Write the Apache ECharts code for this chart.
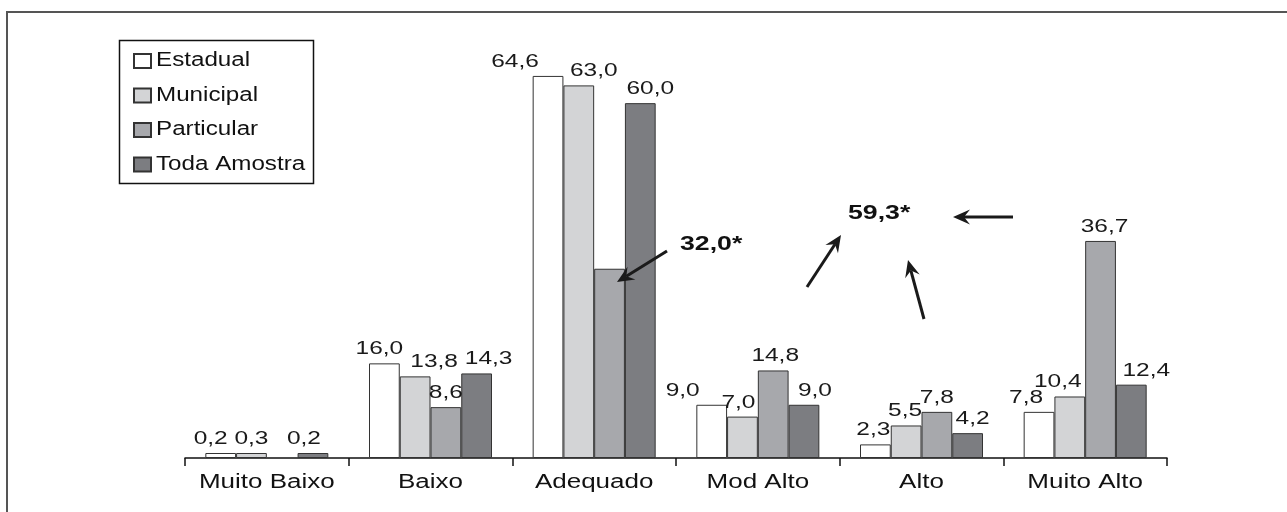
<!DOCTYPE html>
<html><head><meta charset="utf-8">
<script src="https://cdn.jsdelivr.net/npm/echarts@6/dist/echarts.min.js"></script>
<style>html,body{margin:0;padding:0;background:#fff}#c{width:1287px;height:512px}</style>
</head><body><div id="c"></div>
<script>
const categories = ['Muito Baixo','Baixo','Adequado','Mod Alto','Alto','Muito Alto'];
const seriesNames = ['Estadual','Municipal','Particular','Toda Amostra'];
const estadual = [0.2, 16.0, 64.6, 9.0, 2.3, 7.8];
const municipal = [0.3, 13.8, 63.0, 7.0, 5.5, 10.4];
const particular = [null, 8.6, 32.0, 14.8, 7.8, 36.7];
const todaAmostra = [0.2, 14.3, 60.0, 9.0, 4.2, 12.4];
const hiddenLabel = [[2, 2]]; // [seriesIndex, dataIndex] shown via annotation instead
const annotations = ['32,0*', '59,3*'];
const colors = ['#ffffff', '#d3d4d6', '#a7a8ac', '#7c7d81'];

// Layout only: horizontal nudges of the value labels as placed in the reference.
const labelShiftX = [
  [-10, -5, -33, -29, -2, -13],
  [0, 19, 15, -4, -1, -12],
  [0, 0, 0, 2, 0, 4],
  [-9, 12, 10, 11, 5, 15]
];

const FONT = '"Liberation Sans", Arial, sans-serif';
// The reference text is horizontally wide; widen glyphs per text size.
const WIDEN = { '18': 1.36, '20': 1.30, '19.5': 1.24, '21': 1.27 };
(function(){
  const orig = CanvasRenderingContext2D.prototype.fillText;
  CanvasRenderingContext2D.prototype.fillText = function(t, x, y, mw){
    const m = /([\d.]+)px/.exec(this.font || '');
    const s = m ? (WIDEN[m[1]] || 1) : 1;
    if (s === 1) return mw === undefined ? orig.call(this, t, x, y) : orig.call(this, t, x, y, mw);
    this.save(); this.translate(x, y); this.scale(s, 1);
    if (mw === undefined) orig.call(this, t, 0, 0); else orig.call(this, t, 0, 0, mw);
    this.restore();
  };
})();

function fmt(v){ return v == null ? '' : v.toFixed(1).replace('.', ','); }

const allData = [estadual, municipal, particular, todaAmostra];
const series = allData.map((arr, si) => ({
  name: seriesNames[si],
  type: 'bar',
  barWidth: 30.75,
  barGap: '0%',
  barMinHeight: 5,
  itemStyle: { color: colors[si], borderColor: '#333', borderWidth: 1 },
  label: {
    show: true, position: 'top', distance: 5,
    fontFamily: FONT, fontSize: 18, color: '#1a1a1a',
    formatter: p => fmt(p.value)
  },
  data: arr.map((v, di) => {
    const hide = hiddenLabel.some(h => h[0] === si && h[1] === di);
    if (hide) return { value: v, label: { show: false } };
    return { value: v, label: { offset: [labelShiftX[si][di], 0] } };
  })
}));

function arrow(x1, y1, x2, y2){
  const dx = x2 - x1, dy = y2 - y1, L = Math.hypot(dx, dy);
  const ux = dx / L, uy = dy / L, nx = -uy, ny = ux;
  const hl = 17, hw = 7.5, notch = 11;
  const bx = x2 - ux * hl, by = y2 - uy * hl;
  const mx = x2 - ux * notch, my = y2 - uy * notch;
  return [
    { type: 'line', z: 100, shape: { x1: x1, y1: y1, x2: mx, y2: my },
      style: { stroke: '#1a1a1a', lineWidth: 3 } },
    { type: 'polygon', z: 100, shape: { points: [[x2, y2], [bx + nx * hw, by + ny * hw], [mx, my], [bx - nx * hw, by - ny * hw]] },
      style: { fill: '#1a1a1a' } }
  ];
}

const graphics = [
  { type: 'rect', z: 100, shape: { x: 7, y: 12, width: 1400, height: 600 },
    style: { fill: null, stroke: '#555', lineWidth: 2 }, silent: true },
  { type: 'rect', z: 100, shape: { x: 119.5, y: 40.5, width: 194, height: 143 },
    style: { fill: null, stroke: '#111', lineWidth: 1.5 }, silent: true },
  { type: 'text', z: 100, x: 680, y: 244,
    style: { text: annotations[0], font: 'bold 21px ' + FONT, fill: '#111', textAlign: 'left', textVerticalAlign: 'middle', verticalAlign: 'middle' } },
  { type: 'text', z: 100, x: 848, y: 213,
    style: { text: annotations[1], font: 'bold 21px ' + FONT, fill: '#111', textAlign: 'left', textVerticalAlign: 'middle', verticalAlign: 'middle' } }
].concat(arrow(667, 251, 617, 282), arrow(807, 287, 841, 235), arrow(924, 319, 908, 260), arrow(1013, 217, 953, 217));

const chart = echarts.init(document.getElementById('c'));
chart.setOption({
  animation: false,
  backgroundColor: '#fff',
  grid: { left: 185, right: 120, top: 44, bottom: 54 },
  legend: {
    orient: 'vertical', left: 128, top: 46,
    itemWidth: 17, itemHeight: 14, itemGap: 14.5,
    icon: 'rect',
    textStyle: { fontFamily: FONT, fontSize: 19.5, color: '#111' },
    data: seriesNames
  },
  xAxis: {
    type: 'category', data: categories,
    axisLine: { lineStyle: { color: '#111', width: 1.5 } },
    axisTick: { show: true, length: 8, alignWithLabel: false, lineStyle: { color: '#111', width: 1.5 } },
    axisLabel: { fontFamily: FONT, fontSize: 20, color: '#111', margin: 14 }
  },
  yAxis: { type: 'value', min: 0, max: 70, show: false, splitLine: { show: false } },
  series: series,
  graphic: graphics
});
</script></body></html>
